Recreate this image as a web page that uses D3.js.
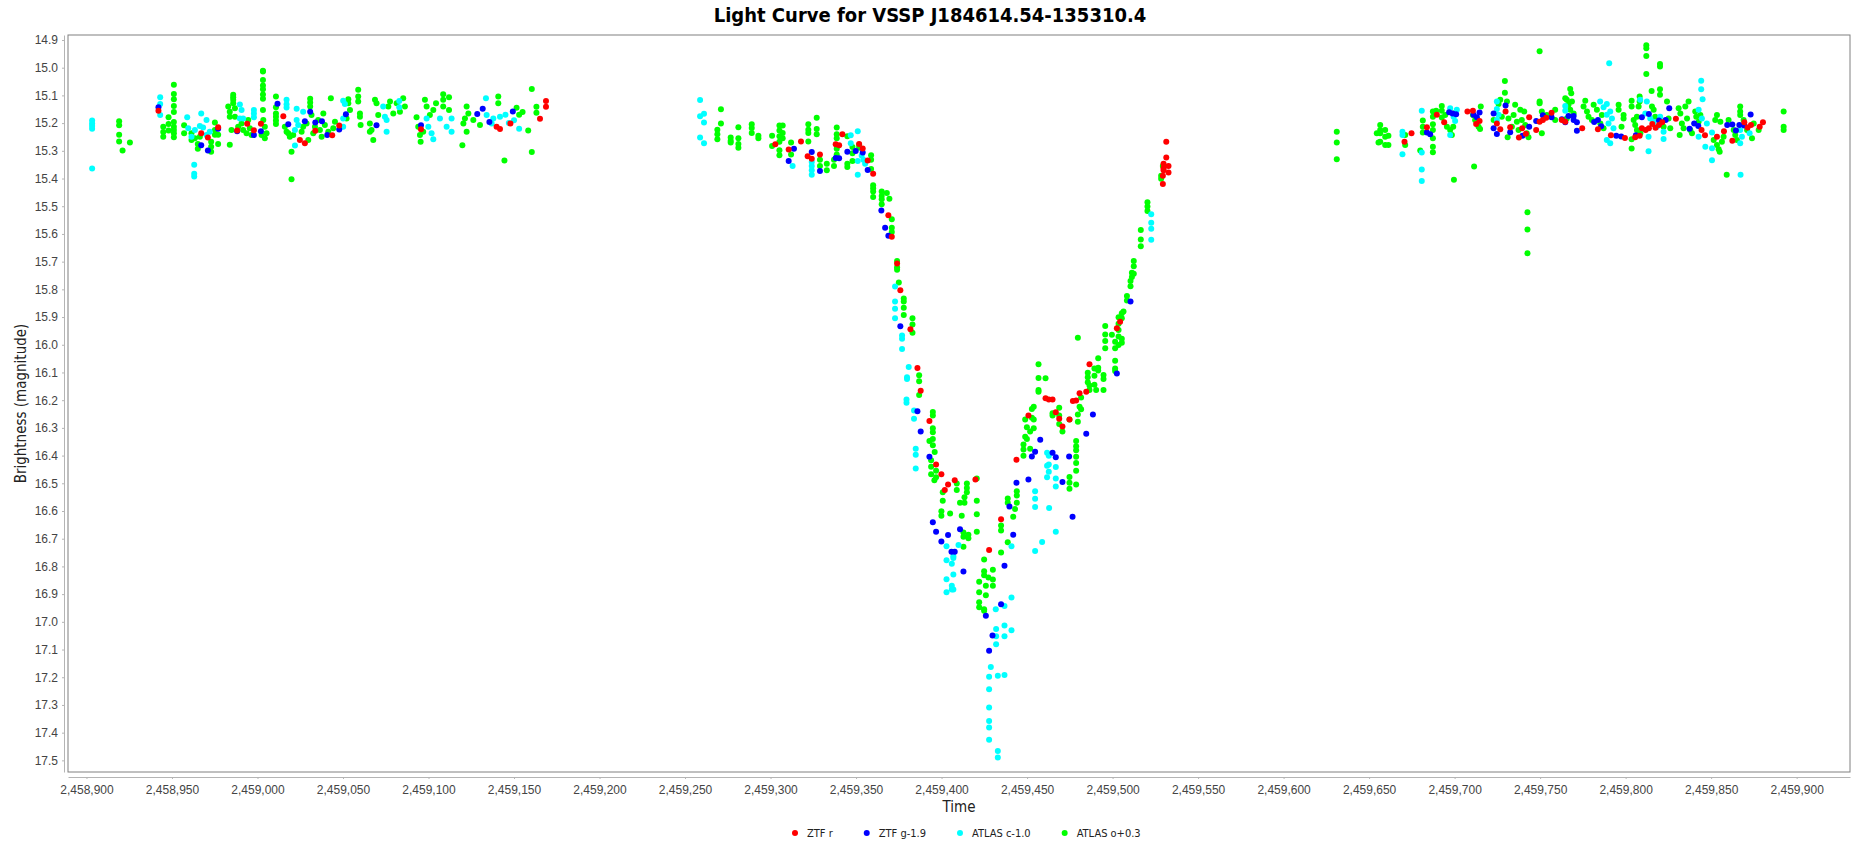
<!DOCTYPE html>
<html>
<head>
<meta charset="utf-8">
<script src="https://cdn.jsdelivr.net/npm/d3@7"></script>
<style>
  body { margin: 0; background: #fff; }
  svg { font-family: "DejaVu Sans Condensed", "DejaVu Sans", sans-serif; }
  .tick text { fill: #444; font-size: 12px; }
  .axis path, .axis line { stroke: #b4b4b4; }
  .title { font-weight: bold; font-size: 20px; fill: #000; }
  .label { font-size: 15px; fill: #222; }
  .legend text { font-size: 11px; fill: #222; }
</style>
</head>
<body>
<svg width="1861" height="845"></svg>
<script>
// series names as shown in the legend
var seriesNames = ["ZTF r", "ZTF g-1.9", "ATLAS c-1.0", "ATLAS o+0.3"];
var seriesColors = ["#ff0000", "#0000ff", "#00ffff", "#00ff00"];

var xTicks = [2458900, 2458950, 2459000, 2459050, 2459100, 2459150, 2459200, 2459250, 2459300, 2459350,
  2459400, 2459450, 2459500, 2459550, 2459600, 2459650, 2459700, 2459750, 2459800, 2459850, 2459900];
var yTicks = [14.9, 15.0, 15.1, 15.2, 15.3, 15.4, 15.5, 15.6, 15.7, 15.8, 15.9, 16.0, 16.1, 16.2, 16.3,
  16.4, 16.5, 16.6, 16.7, 16.8, 16.9, 17.0, 17.1, 17.2, 17.3, 17.4, 17.5];

// [time, magnitude]
var ztfR = [
  [2458942.1,15.155],[2458967.1,15.237],[2458971.0,15.252],[2458977.0,15.215],[2458988.1,15.227],[2458994.0,15.202],
  [2458997.9,15.226],[2459002.0,15.202],[2459015.1,15.175],[2459024.8,15.261],[2459027.7,15.273],[2459033.8,15.228],
  [2459043.7,15.244],[2459047.8,15.209],[2459095.6,15.222],[2459139.8,15.213],[2459141.8,15.221],[2459147.9,15.201],
  [2459165.2,15.184],[2459168.7,15.120],[2459168.7,15.141],
  [2459302.8,15.276],[2459310.6,15.295],[2459317.8,15.266],[2459321.7,15.320],[2459324.1,15.329],[2459328.9,15.313],
  [2459338.1,15.276],[2459340.1,15.280],[2459342.0,15.240],[2459351.8,15.275],[2459353.9,15.292],[2459356.8,15.335],
  [2459360.0,15.383],[2459368.9,15.533],[2459370.9,15.610],[2459374.0,15.707],[2459375.9,15.803],[2459381.8,15.944],
  [2459385.9,16.084],[2459387.8,16.166],[2459392.9,16.275],[2459396.8,16.432],[2459399.9,16.467],[2459401.9,16.524],
  [2459403.8,16.504],[2459407.7,16.489],[2459419.8,16.486],[2459427.8,16.741],[2459434.8,16.630],[2459443.8,16.415],
  [2459450.8,16.255],[2459460.8,16.193],[2459462.7,16.198],[2459464.9,16.198],[2459466.8,16.244],[2459468.8,16.267],
  [2459470.7,16.295],[2459474.8,16.270],[2459476.8,16.203],[2459478.7,16.201],[2459480.7,16.175],[2459484.6,16.170],
  [2459486.5,16.070],[2459502.5,15.940],[2459504.4,15.917],[2459529.4,15.390],[2459529.4,15.420],[2459531.4,15.267],
  [2459531.4,15.324],[2459529.8,15.347],[2459529.8,15.363],[2459529.8,15.370],[2459532.7,15.355],[2459532.7,15.378],
  [2459670.7,15.267],[2459674.8,15.237],[2459683.8,15.215],[2459689.6,15.170],[2459693.9,15.197],[2459707.5,15.158],
  [2459710.7,15.155],[2459712.6,15.203],[2459714.6,15.192],[2459724.7,15.201],[2459726.7,15.222],[2459729.8,15.158],
  [2459732.5,15.215],[2459737.6,15.252],[2459739.5,15.219],[2459741.7,15.238],[2459743.6,15.179],[2459747.7,15.225],
  [2459749.7,15.195],[2459751.6,15.189],[2459753.6,15.181],[2459756.7,15.163],[2459762.7,15.189],[2459764.7,15.195],
  [2459774.6,15.219],[2459783.8,15.222],[2459791.4,15.244],[2459799.6,15.254],[2459805.6,15.251],[2459808.2,15.246],
  [2459809.5,15.219],[2459811.7,15.225],[2459813.6,15.219],[2459815.6,15.203],[2459817.5,15.217],[2459819.5,15.207],
  [2459821.4,15.197],[2459829.4,15.184],[2459844.4,15.225],[2459846.4,15.244],[2459853.4,15.249],[2459857.5,15.229],
  [2459862.4,15.264],[2459869.4,15.197],[2459871.3,15.216],[2459873.3,15.207],[2459878.4,15.213],[2459880.3,15.197]
];

var ztfG = [
  [2458942.1,15.143],[2458967.1,15.280],[2458971.0,15.299],[2458977.0,15.220],[2458988.1,15.229],[2458997.9,15.243],
  [2459002.0,15.229],[2459011.7,15.130],[2459018.0,15.204],[2459027.7,15.193],[2459030.8,15.159],[2459033.8,15.198],
  [2459037.7,15.193],[2459040.8,15.243],[2459047.8,15.223],[2459051.7,15.168],[2459069.6,15.208],[2459095.6,15.208],
  [2459128.5,15.167],[2459131.7,15.148],[2459135.6,15.196],[2459149.3,15.158],
  [2459313.7,15.293],[2459310.6,15.337],[2459324.1,15.304],[2459328.9,15.373],[2459338.1,15.326],[2459340.1,15.327],
  [2459344.9,15.303],[2459349.8,15.301],[2459353.9,15.306],[2459356.8,15.369],[2459364.8,15.515],[2459367.0,15.578],
  [2459368.9,15.607],[2459375.9,15.933],[2459385.9,16.240],[2459387.8,16.313],[2459392.9,16.404],[2459394.9,16.641],
  [2459396.8,16.675],[2459399.9,16.710],[2459403.8,16.687],[2459410.8,16.666],[2459405.8,16.747],[2459407.7,16.747],
  [2459412.8,16.818],[2459425.9,16.978],[2459429.8,17.049],[2459427.8,17.104],[2459434.8,16.937],[2459436.8,16.798],
  [2459439.7,16.584],[2459441.9,16.686],[2459443.8,16.498],[2459450.8,16.486],[2459452.8,16.403],[2459454.7,16.386],
  [2459457.7,16.343],[2459464.9,16.390],[2459466.8,16.406],[2459470.7,16.495],[2459474.6,16.403],[2459476.6,16.621],
  [2459484.6,16.321],[2459488.5,16.252],[2459502.5,16.104],[2459510.5,15.844],
  [2459683.8,15.234],[2459685.7,15.240],[2459696.8,15.161],[2459698.8,15.165],[2459700.9,15.168],[2459711.0,15.170],
  [2459713.0,15.179],[2459714.6,15.162],[2459722.8,15.165],[2459722.8,15.219],[2459724.7,15.239],[2459729.8,15.136],
  [2459732.5,15.233],[2459739.7,15.246],[2459743.6,15.213],[2459747.7,15.192],[2459751.6,15.172],[2459756.7,15.179],
  [2459762.7,15.186],[2459764.7,15.197],[2459766.6,15.174],[2459769.6,15.174],[2459769.6,15.189],[2459771.5,15.197],
  [2459771.5,15.228],[2459781.6,15.196],[2459783.8,15.189],[2459785.7,15.211],[2459794.5,15.246],[2459797.4,15.248],
  [2459806.0,15.244],[2459809.5,15.179],[2459813.6,15.167],[2459819.5,15.191],[2459823.4,15.189],[2459825.5,15.146],
  [2459837.4,15.220],[2459840.1,15.201],[2459842.5,15.210],[2459859.4,15.207],[2459862.4,15.205],[2459864.5,15.227],
  [2459866.5,15.207],[2459869.4,15.209],[2459873.1,15.169]
];

var atlasC = [
  [2458903.3,15.191],[2458903.3,15.201],[2458903.3,15.210],[2458903.3,15.220],[2458903.3,15.364],
  [2458943.1,15.107],[2458943.1,15.131],[2458943.1,15.171],[2458958.9,15.179],
  [2458963.0,15.350],[2458963.0,15.383],[2458963.0,15.393],
  [2458959.5,15.219],[2458961.4,15.249],[2458963.4,15.225],[2458966.3,15.210],[2458968.2,15.216],[2458967.1,15.165],
  [2458970.2,15.189],[2458970.2,15.243],[2458972.1,15.231],
  [2458989.7,15.133],[2458990.7,15.153],[2458991.6,15.183],[2458989.7,15.183],
  [2458997.9,15.153],[2458997.9,15.165],[2458997.9,15.179],
  [2459017.0,15.116],[2459017.0,15.132],[2459017.0,15.144],
  [2459021.9,15.281],[2459021.9,15.225],[2459022.9,15.189],[2459022.9,15.148],[2459023.8,15.207],[2459026.7,15.159],
  [2459050.1,15.119],[2459051.1,15.131],[2459050.1,15.183],[2459050.1,15.213],
  [2459073.5,15.140],[2459074.5,15.177],[2459075.5,15.189],[2459075.5,15.231],[2459082.9,15.120],[2459082.9,15.143],
  [2459098.9,15.183],[2459099.9,15.213],[2459101.8,15.237],[2459102.8,15.258],
  [2459106.7,15.183],[2459110.6,15.213],[2459113.5,15.183],[2459113.5,15.231],
  [2459133.6,15.110],[2459134.0,15.171],[2459137.9,15.183],[2459141.8,15.177],[2459136.9,15.201],
  [2459145.0,15.170],[2459147.0,15.200],[2459150.0,15.190],[2459153.0,15.220],
  [2459258.8,15.117],[2459258.8,15.175],[2459261.1,15.166],[2459261.1,15.198],[2459258.8,15.252],[2459261.1,15.273],
  [2459312.9,15.355],[2459324.1,15.340],[2459324.1,15.355],[2459324.1,15.370],[2459324.1,15.386],
  [2459346.9,15.244],[2459346.9,15.273],[2459351.0,15.229],[2459351.0,15.337],[2459351.0,15.386],[2459353.3,15.317],
  [2459354.3,15.332],[2459355.3,15.347],
  [2459372.8,15.790],[2459372.8,15.844],[2459372.8,15.870],[2459372.8,15.904],
  [2459376.9,15.967],[2459376.9,15.978],[2459376.9,16.015],
  [2459380.8,16.080],[2459379.8,16.117],[2459379.8,16.124],[2459379.5,16.198],[2459379.5,16.209],
  [2459383.9,16.237],[2459383.9,16.267],[2459384.9,16.375],[2459384.9,16.397],[2459384.9,16.447],
  [2459402.9,16.727],[2459409.9,16.723],[2459406.9,16.763],[2459406.9,16.770],[2459402.9,16.778],[2459406.0,16.790],
  [2459406.9,16.829],[2459402.9,16.846],[2459406.0,16.870],[2459406.0,16.883],[2459402.9,16.893],[2459406.9,16.883],
  [2459431.7,16.955],[2459436.8,16.943],[2459440.9,16.912],[2459431.9,17.026],[2459431.9,17.052],[2459431.9,17.081],
  [2459436.8,17.013],[2459436.8,17.052],[2459440.9,17.030],[2459428.8,17.163],[2459427.8,17.198],[2459427.8,17.243],
  [2459432.9,17.195],[2459436.8,17.192],[2459427.8,17.309],[2459427.8,17.358],[2459427.8,17.381],[2459427.8,17.426],
  [2459432.9,17.466],[2459432.9,17.490],
  [2459440.9,16.727],[2459461.7,16.390],[2459461.7,16.437],[2459461.7,16.478],[2459462.7,16.401],[2459462.7,16.432],
  [2459462.7,16.458],[2459466.8,16.441],[2459466.8,16.483],[2459466.8,16.512],[2459462.9,16.589],[2459466.8,16.675],
  [2459454.7,16.529],[2459454.7,16.556],[2459454.7,16.586],[2459458.8,16.712],[2459454.7,16.744],
  [2459522.6,15.529],[2459522.6,15.560],[2459522.6,15.581],[2459522.6,15.621],
  [2459669.5,15.231],[2459669.5,15.243],[2459669.5,15.312],[2459680.8,15.155],[2459680.8,15.306],[2459680.8,15.367],
  [2459680.8,15.409],[2459697.4,15.146],[2459699.4,15.177],[2459700.3,15.192],[2459697.4,15.243],[2459701.3,15.152],
  [2459724.7,15.122],[2459724.7,15.149],[2459725.7,15.170],[2459724.7,15.189],[2459764.7,15.138],[2459764.7,15.155],
  [2459785.1,15.122],[2459787.1,15.143],[2459789.0,15.131],[2459791.0,15.158],[2459789.0,15.170],[2459792.0,15.183],
  [2459790.0,15.201],[2459792.9,15.219],[2459789.0,15.261],[2459791.0,15.273],[2459790.4,14.984],
  [2459808.5,15.116],[2459812.4,15.122],[2459811.5,15.165],[2459814.4,15.183],[2459816.3,15.195],[2459818.3,15.213],
  [2459820.2,15.177],[2459822.2,15.231],[2459813.4,15.249],[2459822.2,15.257],[2459813.4,15.302],
  [2459844.2,15.047],[2459844.2,15.078],[2459845.0,15.114],[2459842.7,15.152],[2459844.6,15.183],[2459847.5,15.201],
  [2459842.7,15.249],[2459846.6,15.285],[2459850.5,15.234],[2459850.5,15.291],[2459850.5,15.334],
  [2459867.0,15.225],[2459868.0,15.249],[2459867.0,15.273],[2459872.5,15.237],[2459867.2,15.386]
];

var atlasO = [
  [2458919.1,15.193],[2458919.1,15.208],[2458919.1,15.242],[2458919.1,15.266],[2458921.1,15.299],[2458925.4,15.270],
  [2458944.9,15.213],[2458944.9,15.232],[2458944.9,15.249],[2458948.0,15.179],[2458948.0,15.203],[2458948.0,15.227],
  [2458951.1,15.062],[2458951.1,15.095],[2458951.1,15.114],[2458951.1,15.138],[2458951.1,15.160],[2458951.1,15.196],
  [2458951.1,15.213],[2458951.1,15.225],[2458951.1,15.237],[2458951.1,15.251],[2458957.1,15.208],[2458957.1,15.237],
  [2458961.4,15.237],[2458961.4,15.261],[2458963.4,15.255],[2458965.1,15.275],[2458965.1,15.293],[2458966.3,15.249],
  [2458972.9,15.267],[2458972.9,15.285],[2458972.9,15.303],[2458975.1,15.198],[2458975.1,15.225],[2458975.1,15.242],
  [2458977.0,15.242],[2458977.0,15.275],[2458983.8,15.278],[2458982.9,15.140],[2458983.8,15.159],[2458983.8,15.177],
  [2458985.8,15.098],[2458985.8,15.107],[2458985.8,15.116],[2458985.8,15.128],[2458986.8,15.146],[2458984.8,15.225],
  [2458986.8,15.177],[2458988.7,15.213],[2458990.7,15.201],[2458991.6,15.225],[2458993.6,15.237],[2458995.5,15.219],
  [2458996.5,15.243],[2458994.6,15.189],[2459003.2,15.011],[2459003.2,15.014],[2459003.2,15.044],[2459003.2,15.064],
  [2459003.2,15.078],[2459003.2,15.097],[2459003.2,15.112],[2459003.2,15.153],[2459003.4,15.189],[2459004.3,15.213],
  [2459005.3,15.237],[2459004.3,15.255],[2459002.4,15.243],[2459010.8,15.104],[2459010.8,15.143],[2459010.8,15.165],
  [2459010.8,15.177],[2459010.8,15.191],[2459010.8,15.203],[2459016.0,15.213],[2459017.0,15.231],[2459018.9,15.249],
  [2459019.9,15.303],[2459019.9,15.403],[2459018.0,15.237],[2459020.9,15.243],[2459025.8,15.231],[2459026.7,15.213],
  [2459028.7,15.201],[2459029.7,15.261],[2459030.8,15.112],[2459030.8,15.126],[2459030.8,15.140],[2459031.6,15.171],
  [2459032.6,15.237],[2459033.6,15.213],[2459035.5,15.189],[2459036.5,15.225],[2459037.5,15.249],[2459038.5,15.165],
  [2459039.4,15.207],[2459041.4,15.231],[2459044.3,15.219],[2459045.3,15.195],[2459042.9,15.110],[2459053.1,15.114],
  [2459053.1,15.128],[2459054.1,15.153],[2459052.1,15.183],[2459058.9,15.080],[2459058.9,15.104],[2459058.9,15.122],
  [2459059.9,15.165],[2459059.9,15.177],[2459060.3,15.207],[2459065.7,15.201],[2459066.7,15.225],[2459067.7,15.261],
  [2459065.7,15.231],[2459068.7,15.116],[2459069.6,15.128],[2459070.6,15.171],[2459076.5,15.140],[2459077.5,15.122],
  [2459079.4,15.165],[2459081.4,15.128],[2459083.3,15.159],[2459085.2,15.110],[2459086.2,15.140],[2459093.0,15.179],
  [2459094.0,15.213],[2459095.0,15.243],[2459095.4,15.267],[2459096.9,15.231],[2459097.9,15.116],[2459098.9,15.140],
  [2459100.8,15.171],[2459102.8,15.153],[2459104.4,15.128],[2459108.6,15.096],[2459108.6,15.116],[2459108.6,15.140],
  [2459112.0,15.107],[2459112.0,15.153],[2459119.8,15.280],[2459120.4,15.201],[2459121.3,15.183],[2459122.3,15.140],
  [2459123.3,15.165],[2459122.3,15.231],[2459126.2,15.189],[2459130.1,15.207],[2459140.8,15.104],[2459140.8,15.128],
  [2459144.4,15.335],[2459151.5,15.145],[2459153.0,15.170],[2459155.0,15.160],[2459158.3,15.227],[2459160.4,15.077],
  [2459160.4,15.304],[2459163.1,15.141],[2459163.1,15.163],
  [2459268.9,15.224],[2459268.9,15.240],[2459268.9,15.258],[2459271.0,15.150],[2459271.0,15.201],
  [2459276.7,15.252],[2459276.7,15.264],[2459276.7,15.270],[2459281.2,15.215],[2459281.2,15.255],[2459281.2,15.275],
  [2459281.2,15.289],[2459289.0,15.204],[2459289.0,15.218],[2459289.0,15.236],[2459292.9,15.246],[2459292.9,15.255],
  [2459300.9,15.246],[2459300.9,15.283],[2459305.2,15.209],[2459305.2,15.227],[2459305.2,15.247],[2459305.2,15.267],
  [2459305.2,15.298],[2459305.2,15.316],[2459307.1,15.209],[2459307.1,15.236],[2459307.1,15.255],[2459312.0,15.270],
  [2459312.0,15.313],[2459322.1,15.204],[2459322.1,15.224],[2459322.1,15.236],[2459322.1,15.266],[2459327.0,15.181],
  [2459327.0,15.221],[2459327.0,15.240],[2459328.9,15.332],[2459328.9,15.355],[2459332.9,15.347],[2459332.9,15.370],
  [2459337.1,15.332],[2459337.1,15.355],[2459338.7,15.216],[2459338.7,15.240],[2459338.7,15.255],[2459338.7,15.293],
  [2459338.7,15.313],[2459344.9,15.247],[2459344.9,15.347],[2459344.9,15.358],[2459347.9,15.286],[2459347.9,15.309],
  [2459347.9,15.337],[2459351.8,15.278],[2459351.8,15.289],[2459358.8,15.316],[2459358.8,15.332],[2459358.8,15.366],
  [2459360.0,15.424],[2459360.0,15.435],[2459360.0,15.447],[2459360.0,15.467],[2459365.0,15.447],[2459365.0,15.463],
  [2459365.0,15.475],[2459365.0,15.493],[2459368.0,15.452],[2459369.5,15.473],[2459370.9,15.547],[2459370.9,15.578],
  [2459370.9,15.593],[2459374.0,15.698],[2459374.0,15.720],[2459374.0,15.729],[2459375.0,15.775],[2459377.9,15.833],
  [2459377.9,15.844],[2459377.9,15.866],[2459377.9,15.893],[2459383.0,15.904],[2459383.0,15.927],[2459383.0,15.957],
  [2459386.9,16.110],[2459386.9,16.132],[2459386.9,16.181],[2459394.9,16.243],[2459394.9,16.255],[2459394.9,16.301],
  [2459394.9,16.316],[2459392.9,16.347],[2459394.9,16.340],[2459394.9,16.363],[2459396.0,16.387],[2459393.9,16.417],
  [2459393.9,16.440],[2459393.9,16.467],[2459396.8,16.455],[2459396.8,16.478],[2459395.8,16.489],[2459400.7,16.532],
  [2459400.7,16.563],[2459408.9,16.501],[2459408.9,16.524],[2459414.8,16.501],[2459414.8,16.517],[2459414.8,16.532],
  [2459413.4,16.550],[2459413.4,16.570],[2459410.8,16.570],[2459420.6,16.483],[2459420.6,16.563],[2459420.6,16.612],
  [2459420.6,16.675],[2459399.9,16.601],[2459399.9,16.617],[2459405.0,16.609],[2459411.8,16.617],[2459412.8,16.678],
  [2459412.8,16.693],[2459415.7,16.686],[2459415.7,16.698],[2459412.8,16.729],[2459424.9,16.775],[2459424.9,16.817],
  [2459424.9,16.832],[2459422.0,16.855],[2459427.4,16.840],[2459430.0,16.812],[2459430.0,16.847],[2459430.0,16.870],
  [2459425.9,16.870],[2459425.9,16.904],[2459422.0,16.893],[2459422.0,16.929],[2459422.0,16.947],[2459424.9,16.955],
  [2459424.9,16.960],[2459434.8,16.652],[2459434.8,16.670],[2459434.8,16.750],[2459438.7,16.713],[2459438.7,16.555],
  [2459438.7,16.570],[2459441.9,16.621],[2459444.0,16.529],[2459444.0,16.544],[2459444.0,16.570],[2459443.0,16.593],
  [2459447.9,16.360],[2459447.9,16.378],[2459447.9,16.401],[2459448.9,16.332],[2459449.9,16.298],[2459449.9,16.340],
  [2459451.8,16.313],[2459451.8,16.375],[2459453.9,16.270],[2459453.9,16.301],[2459453.9,16.224],[2459448.9,16.270],
  [2459452.8,16.232],[2459452.8,16.263],[2459456.7,16.070],[2459456.7,16.120],[2459456.7,16.163],[2459456.7,16.170],
  [2459460.8,16.121],[2459464.9,16.247],[2459464.9,16.255],[2459468.8,16.227],[2459468.8,16.255],[2459468.8,16.286],
  [2459470.7,16.313],[2459474.8,16.477],[2459474.8,16.498],[2459474.8,16.520],[2459478.7,16.347],[2459478.7,16.366],
  [2459478.7,16.381],[2459478.7,16.404],[2459478.7,16.427],[2459478.7,16.455],[2459478.7,16.504],[2459479.7,16.252],
  [2459479.7,16.278],[2459480.7,16.224],[2459481.6,16.190],[2459481.6,16.233],[2459474.8,16.270],[2459479.7,15.975],
  [2459485.5,16.101],[2459485.5,16.117],[2459485.5,16.135],[2459486.5,16.147],[2459486.5,16.163],[2459489.4,16.086],
  [2459489.4,16.112],[2459489.4,16.144],[2459490.4,16.163],[2459491.6,16.049],[2459491.6,16.083],[2459491.6,16.093],
  [2459494.7,16.109],[2459494.7,16.124],[2459494.7,16.163],[2459495.7,15.932],[2459495.7,15.963],[2459495.7,15.986],
  [2459495.7,16.013],[2459499.6,15.964],[2459501.5,15.989],[2459501.5,16.013],[2459501.5,16.058],[2459501.5,16.086],
  [2459501.5,16.095],[2459503.5,15.901],[2459503.5,15.924],[2459503.5,15.947],[2459503.5,15.970],[2459503.5,16.001],
  [2459505.4,15.886],[2459505.4,15.904],[2459505.4,15.978],[2459505.4,15.993],[2459506.4,15.880],[2459508.4,15.824],
  [2459508.4,15.840],[2459510.5,15.770],[2459510.5,15.789],[2459511.3,15.740],[2459511.3,15.755],[2459512.4,15.698],
  [2459512.4,15.717],[2459512.4,15.744],[2459516.5,15.586],[2459516.5,15.620],[2459516.5,15.644],[2459520.4,15.486],
  [2459520.4,15.501],[2459520.4,15.517],[2459528.4,15.401],[2459528.4,15.390],[2459529.4,15.355],
  [2459631.1,15.231],[2459631.1,15.270],[2459631.1,15.330],
  [2459656.5,15.207],[2459656.5,15.225],[2459656.5,15.237],[2459656.5,15.267],[2459659.4,15.225],[2459659.4,15.249],
  [2459659.4,15.279],[2459661.3,15.246],[2459661.3,15.279],[2459654.5,15.237],[2459655.5,15.270],[2459671.1,15.243],
  [2459671.1,15.279],[2459679.9,15.299],[2459681.4,15.191],[2459681.4,15.213],[2459681.4,15.234],[2459687.3,15.158],
  [2459687.3,15.177],[2459687.3,15.204],[2459687.3,15.225],[2459687.3,15.255],[2459687.3,15.285],[2459687.3,15.305],
  [2459689.2,15.155],[2459692.5,15.138],[2459692.5,15.155],[2459692.5,15.180],[2459694.5,15.171],[2459695.5,15.213],
  [2459697.4,15.225],[2459699.4,15.165],[2459699.2,15.213],[2459699.6,15.404],[2459698.4,15.243],[2459710.7,15.171],
  [2459711.4,15.357],[2459712.0,15.189],[2459714.0,15.213],[2459715.3,15.140],[2459714.9,15.221],[2459722.8,15.189],
  [2459725.7,15.131],[2459726.7,15.116],[2459727.6,15.177],[2459729.4,15.048],[2459729.4,15.090],[2459730.6,15.122],
  [2459731.0,15.251],[2459731.5,15.183],[2459733.5,15.213],[2459734.5,15.171],[2459735.4,15.134],[2459736.4,15.195],
  [2459737.4,15.225],[2459738.4,15.152],[2459739.3,15.189],[2459740.7,15.158],[2459741.3,15.207],[2459742.2,15.237],
  [2459743.2,15.251],[2459742.6,15.522],[2459742.6,15.584],[2459742.6,15.670],[2459749.7,14.941],[2459749.7,15.122],
  [2459749.7,15.128],[2459751.0,15.158],[2459751.0,15.237],[2459753.9,15.171],[2459758.8,15.152],[2459758.8,15.189],
  [2459764.7,15.110],[2459765.6,15.116],[2459767.6,15.077],[2459768.2,15.092],[2459768.6,15.122],[2459766.6,15.134],
  [2459767.6,15.152],[2459769.6,15.165],[2459765.6,15.183],[2459776.4,15.119],[2459775.4,15.140],[2459777.4,15.158],
  [2459778.3,15.177],[2459780.3,15.189],[2459781.3,15.134],[2459783.2,15.152],[2459785.2,15.201],[2459787.1,15.219],
  [2459786.1,15.171],[2459795.9,15.134],[2459795.9,15.152],[2459798.8,15.171],[2459798.8,15.183],[2459797.6,15.213],
  [2459803.5,15.119],[2459803.5,15.140],[2459803.5,15.258],[2459803.5,15.292],[2459804.7,15.189],[2459805.6,15.207],
  [2459806.6,15.225],[2459808.2,15.104],[2459808.2,15.122],[2459807.6,15.140],[2459806.6,15.177],[2459808.6,15.237],
  [2459812.1,14.919],[2459812.1,14.930],[2459812.1,14.958],[2459812.1,15.023],[2459820.1,14.987],[2459820.1,14.996],
  [2459815.2,15.084],[2459820.1,15.078],[2459820.1,15.098],[2459824.2,15.122],[2459815.4,15.140],[2459816.4,15.152],
  [2459817.3,15.177],[2459820.3,15.195],[2459822.2,15.213],[2459826.1,15.219],[2459825.1,15.183],[2459831.6,15.243],
  [2459831.0,15.146],[2459832.0,15.165],[2459832.9,15.201],[2459833.9,15.219],[2459834.9,15.140],[2459835.9,15.183],
  [2459836.8,15.122],[2459837.8,15.225],[2459838.8,15.237],[2459840.7,15.158],[2459841.3,15.177],[2459842.7,15.195],
  [2459843.7,15.171],[2459851.5,15.261],[2459853.4,15.279],[2459854.4,15.294],[2459855.0,15.303],[2459852.4,15.189],
  [2459853.4,15.171],[2459855.4,15.195],[2459856.3,15.267],[2459857.3,15.249],[2459859.1,15.386],[2459860.2,15.189],
  [2459863.2,15.225],[2459864.1,15.243],[2459865.1,15.261],[2459867.0,15.140],[2459867.0,15.158],[2459867.0,15.171],
  [2459869.0,15.189],[2459871.0,15.225],[2459873.9,15.255],[2459874.9,15.201],[2459877.8,15.225],[2459892.4,15.158],
  [2459892.4,15.213],[2459892.4,15.225]
];

var svg = d3.select("svg");
var plotLeft = 68, plotTop = 35, plotRight = 1850, plotBottom = 772;

var x = d3.scaleLinear().domain([2458889.2, 2459931.2]).range([plotLeft, plotRight]);
var y = d3.scaleLinear().domain([14.882, 17.542]).range([plotTop, plotBottom]);

svg.append("text")
  .attr("class", "title")
  .attr("x", 930)
  .attr("y", 22)
  .attr("text-anchor", "middle")
  .text("Light Curve for VSSP J184614.54-135310.4");

// axes sit a few pixels off the plot edge
svg.append("g")
  .attr("class", "axis")
  .attr("transform", "translate(" + (plotLeft - 4) + ",0)")
  .call(d3.axisLeft(y).tickValues(yTicks).tickFormat(d3.format(".1f")).tickSize(2).tickSizeOuter(0).tickPadding(4));

svg.append("g")
  .attr("class", "axis")
  .attr("transform", "translate(0," + (plotBottom + 5) + ")")
  .call(d3.axisBottom(x).tickValues(xTicks).tickFormat(d3.format(",")).tickSize(2).tickSizeOuter(0).tickPadding(6));

svg.selectAll(".axis .domain").attr("stroke", "#b4b4b4");

svg.append("rect")
  .attr("x", plotLeft)
  .attr("y", plotTop)
  .attr("width", plotRight - plotLeft)
  .attr("height", plotBottom - plotTop)
  .attr("fill", "none")
  .attr("stroke", "#808080");

svg.append("text")
  .attr("class", "label")
  .attr("transform", "translate(26," + ((plotTop + plotBottom) / 2) + ") rotate(-90)")
  .attr("text-anchor", "middle")
  .text("Brightness (magnitude)");

svg.append("text")
  .attr("class", "label")
  .attr("x", (plotLeft + plotRight) / 2)
  .attr("y", 812)
  .attr("text-anchor", "middle")
  .text("Time");

// last series drawn first, so ZTF r ends on top
var allSeries = [ztfR, ztfG, atlasC, atlasO];
var g = svg.append("g");
for (var s = allSeries.length - 1; s >= 0; s--) {
  g.append("g")
    .attr("fill", seriesColors[s])
    .selectAll("circle")
    .data(allSeries[s])
    .enter()
    .append("circle")
    .attr("cx", function(d) { return x(d[0]); })
    .attr("cy", function(d) { return y(d[1]); })
    .attr("r", 3);
}

var legend = svg.append("g").attr("class", "legend");
var lx = 795;
seriesNames.forEach(function(name, i) {
  legend.append("circle")
    .attr("cx", lx)
    .attr("cy", 833)
    .attr("r", 3)
    .attr("fill", seriesColors[i]);
  var t = legend.append("text")
    .attr("x", lx + 12)
    .attr("y", 837)
    .text(name);
  lx = lx + 12 + t.node().getComputedTextLength() + 34;
});
</script>
</body>
</html>
